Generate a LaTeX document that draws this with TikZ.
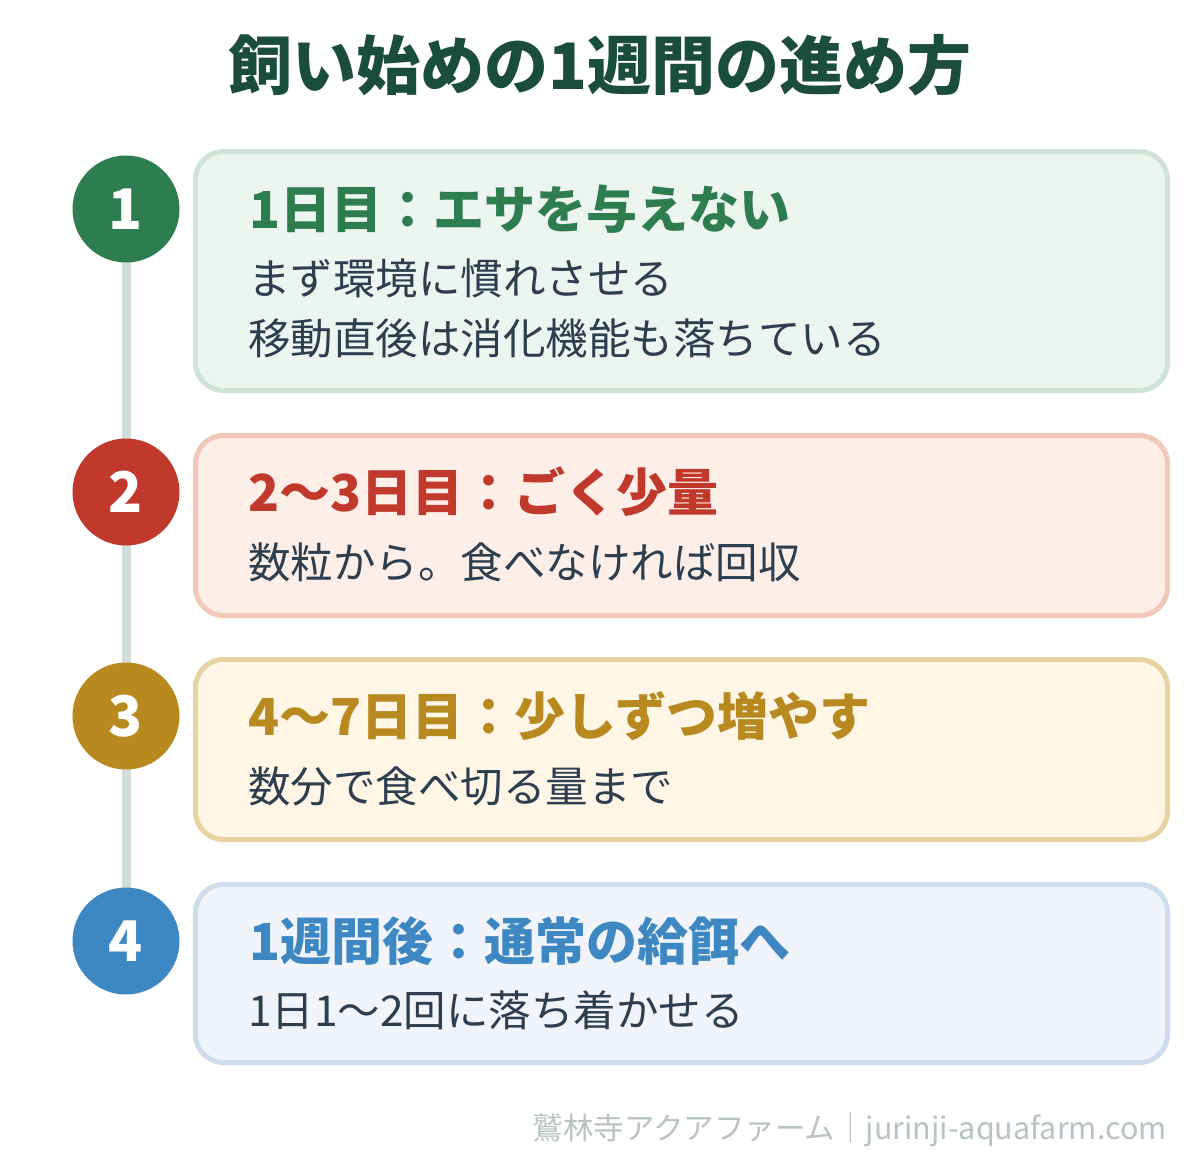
\documentclass[tikz,border=0pt]{standalone}
\usepackage{fontspec}
\setmainfont{Noto Sans CJK JP}
\definecolor{titlec}{HTML}{1B4D3E}
\definecolor{greenc}{HTML}{2E7D4F}
\definecolor{redc}{HTML}{C0392B}
\definecolor{goldc}{HTML}{B8891F}
\definecolor{bluec}{HTML}{3D87C2}
\definecolor{bodyc}{HTML}{2C3E50}
\definecolor{linec}{HTML}{D3DDD8}
\definecolor{footc}{HTML}{B8C4BE}
\definecolor{gfill}{HTML}{EDF5F0}\definecolor{gline}{HTML}{D0E3D9}
\definecolor{rfill}{HTML}{FDEEE8}\definecolor{rline}{HTML}{F2C8B8}
\definecolor{yfill}{HTML}{FFF6E5}\definecolor{yline}{HTML}{E8D4A2}
\definecolor{bfill}{HTML}{F1F5FB}\definecolor{bline}{HTML}{CDDCEE}
\tikzset{
  card/.style={line width=5pt, rounded corners=28pt},
  numdot/.style={circle, minimum size=107pt, inner sep=0pt, text=white, font=\fontsize{56}{60}\selectfont\bfseries},
  headtext/.style={anchor=base west, inner sep=0pt, font=\fontsize{51}{56}\selectfont\bfseries},
  bodytext/.style={anchor=base west, inner sep=0pt, text=bodyc, font=\fontsize{42.5}{48}\selectfont},
}
\begin{document}
\begin{tikzpicture}[x=1pt,y=-1pt]
\useasboundingbox[fill=white] (0,0) rectangle (1200,1165);
% title
\node[anchor=base, inner sep=0pt, text=titlec, font=\fontsize{64}{70}\selectfont\bfseries] (title) at (600,89) {飼い始めの1週間の進め方};
% cards
\draw[card, fill=gfill, draw=gline] (195.5,151.5) rectangle (1167.5,390.5);
\draw[card, fill=rfill, draw=rline] (195.5,435.5) rectangle (1167.5,615.5);
\draw[card, fill=yfill, draw=yline] (195.5,659.5) rectangle (1167.5,839.5);
\draw[card, fill=bfill, draw=bline] (195.5,884.5) rectangle (1167.5,1062.5);
% timeline
\coordinate (t1) at (126,209);
\coordinate (t4) at (126,941);
\draw[linec, line width=9pt] (t1) -- (t4);
\node[numdot, fill=greenc] (n1) at (126,209) {1};
\node[numdot, fill=redc] (n2) at (126,492) {2};
\node[numdot, fill=goldc] (n3) at (126,716) {3};
\node[numdot, fill=bluec] (n4) at (126,941) {4};
% texts
\node[headtext, text=greenc] (h1) at (249,228) {1日目：エサを与えない};
\node[bodytext] (b1a) at (248,294) {まず環境に慣れさせる};
\node[bodytext] (b1b) at (248,354) {移動直後は消化機能も落ちている};
\node[headtext, text=redc] (h2) at (248,511) {2〜3日目：ごく少量};
\node[bodytext] (b2) at (248,578) {数粒から。食べなければ回収};
\node[headtext, text=goldc] (h3) at (248,735) {4〜7日目：少しずつ増やす};
\node[bodytext] (b3) at (248,802) {数分で食べ切る量まで};
\node[headtext, text=bluec] (h4) at (249,960) {1週間後：通常の給餌へ};
\node[bodytext] (b4) at (248,1026) {1日1〜2回に落ち着かせる};
% footer
\node[anchor=base east, inner sep=0pt, text=footc, font=\fontsize{30.5}{34}\selectfont] (foot) at (1167,1139) {鷲林寺アクアファーム｜jurinji-aquafarm.com};
\end{tikzpicture}
\end{document}
